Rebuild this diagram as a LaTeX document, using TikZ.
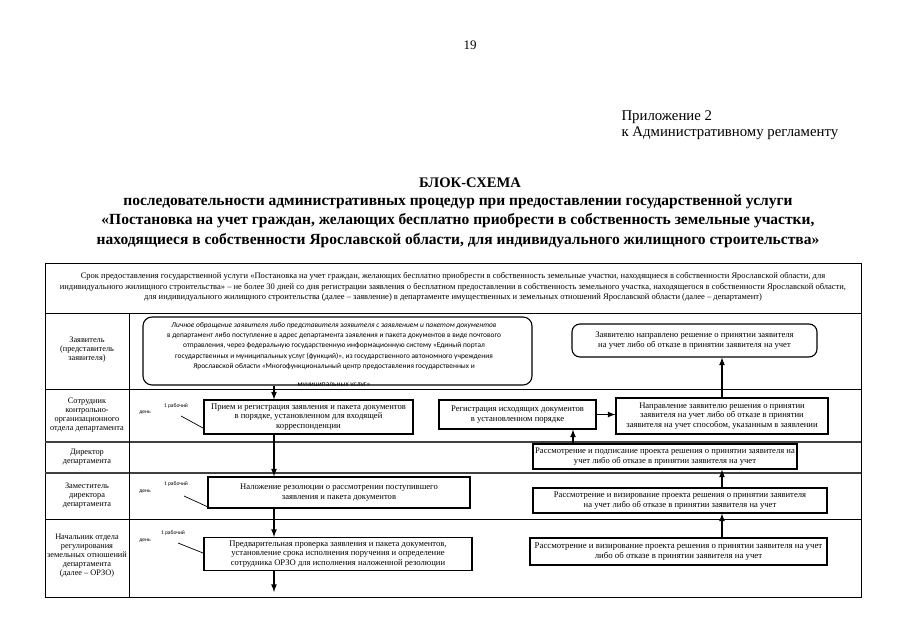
\documentclass[tikz,border=0pt]{standalone}
\usepackage{fontspec}
\setmainfont{Liberation Serif}
\newfontfamily\calibri{Carlito}
\usetikzlibrary{arrows}

\begin{document}
\begin{tikzpicture}[x=1pt,y=-1pt]
 \tikzset{arrow/.style={line width=1.6pt,-latex},
   box/.style={draw,line width=1.1pt,inner sep=1pt,align=center,font=\fontsize{8.6}{9.6}\selectfont},
   rbox/.style={box,rounded corners=8pt},
   lane/.style={align=center,inner sep=0pt,font=\fontsize{8.3}{9}\selectfont},
   day/.style={inner sep=0pt,font=\calibri\fontsize{5.5}{6}\selectfont}}
 \useasboundingbox (0,0) rectangle (905,640);
 \fill[white] (0,0) rectangle (905,640);

 \node (P) at (470,45) {\fontsize{13}{15}\selectfont 19};
 \node[anchor=west,align=left,font=\fontsize{14.8}{16}\selectfont] (Q) at (618,125) {Приложение 2\\к Административному регламенту};
 \node[font=\bfseries\fontsize{14.6}{16}\selectfont] (T) at (470,183) {БЛОК-СХЕМА};
 \node[align=center,font=\bfseries\fontsize{15.5}{19.5}\selectfont] (U) at (458,221)
  {последовательности административных процедур при предоставлении государственной услуги\\
   «Постановка на учет граждан, желающих бесплатно приобрести в собственность земельные участки,\\
   находящиеся в собственности Ярославской области, для индивидуального жилищного строительства»};

 % table
 \draw[line width=0.8pt] (45,263) rectangle (861,597);
 \foreach \y in {313,389,519} \draw[line width=0.8pt] (45,\y) -- (861,\y);
 \foreach \y in {442,473} \draw[line width=1.3pt,black!75] (45,\y) -- (861,\y);
 \draw[line width=0.8pt] (129,313) -- (129,597);

 \node[lane,font=\fontsize{8.5}{10.5}\selectfont] (H) at (453,287)
  {Срок предоставления государственной услуги «Постановка на учет граждан, желающих бесплатно приобрести в собственность земельные участки, находящиеся в собственности Ярославской области, для\\
   индивидуального жилищного строительства» -- не более 30 дней со дня регистрации заявления о бесплатном предоставлении в собственность земельного участка, находящегося в собственности Ярославской области,\\
   для индивидуального жилищного строительства (далее -- заявление) в департаменте имущественных и земельных отношений Ярославской области (далее -- департамент)};

 \node[lane] (L1) at (87,350) {Заявитель\\(представитель\\заявителя)};
 \node[lane] (L2) at (87,415) {Сотрудник\\контрольно-\\организационного\\отдела департамента};
 \node[lane] (L3) at (87,457) {Директор\\департамента};
 \node[lane] (L4) at (87,496) {Заместитель\\директора\\департамента};
 \node[lane] (L5) at (87,556) {Начальник отдела\\регулирования\\земельных отношений\\департамента\\(далее -- ОРЗО)};

 % boxes
 \begin{scope}
  \clip[rounded corners=9pt] (143,317) rectangle (532,385);
  \node[align=center,inner sep=0pt,anchor=north,font=\calibri\fontsize{7.4}{10.3}\selectfont] (At) at (334,322)
   {\textit{Личное обращение заявителя либо представителя заявителя с заявлением и пакетом документов}\\
    в департамент либо поступление в адрес департамента заявления и пакета документов в виде почтового\\
    отправления, через федеральную государственную информационную систему «Единый портал\\
    государственных и муниципальных услуг (функций)», из государственного автономного учреждения\\
    Ярославской области «Многофункциональный центр предоставления государственных и\\[8pt]
    муниципальных услуг»};
 \end{scope}
 \node[rbox,rounded corners=9pt,minimum width=389pt,minimum height=68pt] (A) at (337.5,351) {};
 \node[rbox,minimum width=245pt,minimum height=33pt] (K) at (694.5,340.5)
  {Заявителю направлено решение о принятии заявителя\\на учет либо об отказе в принятии заявителя на учет};
 \node[box,minimum width=209pt,minimum height=34pt] (B) at (308.5,417)
  {Прием и регистрация заявления и пакета документов\\в порядке, установленном для входящей\\корреспонденции};
 \node[box,minimum width=157pt,minimum height=29pt] (G) at (517.5,414.5)
  {Регистрация исходящих документов\\в установленном порядке};
 \node[box,minimum width=212pt,minimum height=36pt] (J) at (722,416)
  {Направление заявителю решения о принятии\\заявителя на учет либо об отказе в принятии\\заявителя на учет способом, указанным в заявлении};
 \node[box,minimum width=264pt,minimum height=25pt] (F) at (665,456.5)
  {Рассмотрение и подписание проекта решения о принятии заявителя на\\учет либо об отказе в принятии заявителя на учет};
 \node[box,minimum width=262pt,minimum height=31pt] (C) at (339,492.5)
  {Наложение резолюции о рассмотрении поступившего\\заявления и пакета документов};
 \node[box,minimum width=294pt,minimum height=25pt] (E) at (680,500.5)
  {Рассмотрение и визирование проекта решения о принятии заявителя\\на учет либо об отказе в принятии заявителя на учет};
 \node[box,minimum width=268pt,minimum height=33pt] (D) at (338,554)
  {Предварительная проверка заявления и пакета документов,\\установление срока исполнения поручения и определение\\сотрудника ОРЗО для исполнения наложенной резолюции};
 \node[box,minimum width=297pt,minimum height=27pt,font=\fontsize{8.8}{9.8}\selectfont] (S) at (678.5,551.5)
  {Рассмотрение и визирование проекта решения о принятии заявителя на учет\\либо об отказе в принятии заявителя на учет};

 % working day notes
 \node[day] (d1) at (176,406) {1 рабочий};
 \node[day] (e1) at (145,413) {день};
 \node[day] (d2) at (176,484) {1 рабочий};
 \node[day] (e2) at (145,492) {день};
 \node[day] (d3) at (173,533) {1 рабочий};
 \node[day] (e3) at (145,541) {день};
 \coordinate (m1) at (181,416); \coordinate (n1) at (203,428);
 \coordinate (m2) at (184,496); \coordinate (n2) at (208,507);
 \coordinate (m3) at (178,543); \coordinate (n3) at (203,553);
 \draw[line width=0.7pt] (m1) -- (n1);
 \draw[line width=0.7pt] (m2) -- (n2);
 \draw[line width=0.7pt] (m3) -- (n3);

 % flow
 \coordinate (xl) at (274,0);
 \coordinate (xr) at (722,0);
 \coordinate (xm) at (573,0);
 \coordinate (Z) at (274,592);
 \draw[arrow] (A.south -| xl) -- (B.north -| xl);
 \draw[arrow] (B.south -| xl) -- (C.north -| xl);
 \draw[arrow] (C.south -| xl) -- (D.north -| xl);
 \draw[arrow] (D.south -| xl) -- (Z);
 \draw[arrow] (S.north -| xr) -- (E.south -| xr);
 \draw[arrow] (E.north -| xr) -- (F.south -| xr);
 \draw[arrow] (F.north -| xm) -- (G.south -| xm);
 \draw[arrow] (G.east) -- (J.west |- G.east);
 \draw[arrow] (J.north -| xr) -- (K.south -| xr);
\end{tikzpicture}
\end{document}
